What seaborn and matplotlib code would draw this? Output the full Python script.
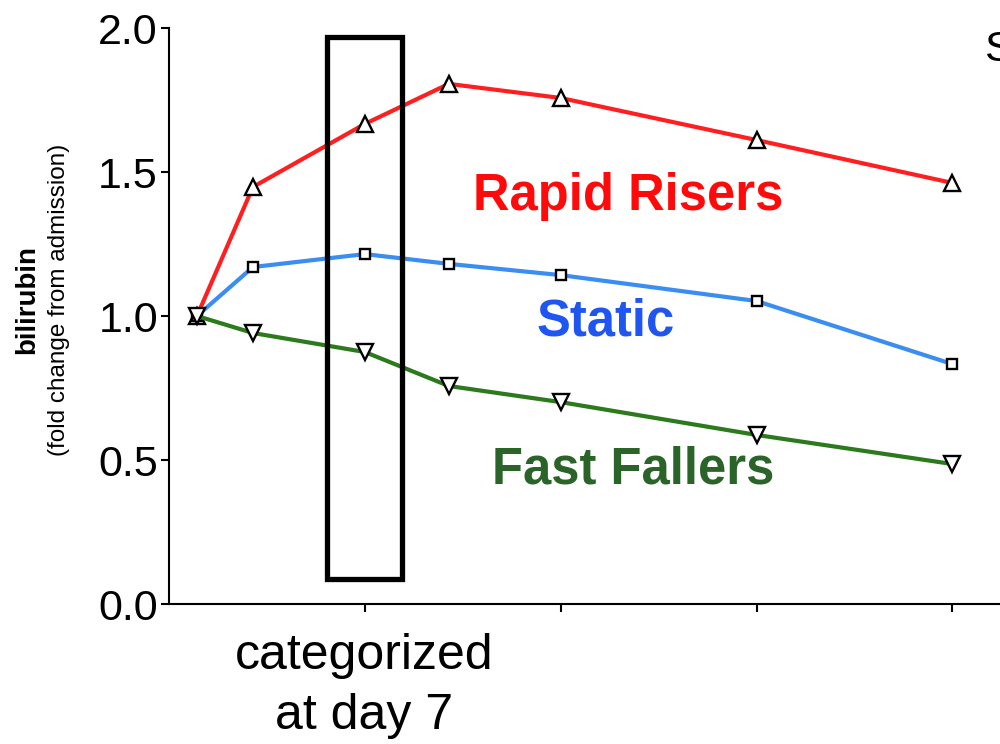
import matplotlib
matplotlib.use("Agg")
import matplotlib.pyplot as plt
import matplotlib.patches as patches
import seaborn as sns
import pandas as pd

days = [1, 3, 7, 10, 14, 21, 28]
rapid_risers = [1.0, 1.448, 1.667, 1.806, 1.757, 1.611, 1.462]
static = [1.0, 1.170, 1.215, 1.181, 1.142, 1.052, 0.833]
fast_fallers = [1.0, 0.941, 0.875, 0.757, 0.701, 0.587, 0.486]
y_ticks = [0.0, 0.5, 1.0, 1.5, 2.0]
x_ticks = [7, 14, 21, 28]

sns.set_style("ticks")
plt.rcParams['font.family'] = ['Liberation Sans', 'DejaVu Sans']
plt.rcParams['text.color'] = 'black'

fig = plt.figure(figsize=(10, 7.44), dpi=100)
ax = fig.add_axes([0.169, 140 / 744, 0.831, (604 - 28) / 744])

series = [
    (rapid_risers, "#ff1f1f", "^"),
    (static, "#3a8ef2", "s"),
    (fast_fallers, "#2b7a1b", "v"),
]
for vals, col, mk in series:
    df = pd.DataFrame({"day": days, "val": vals})
    sns.lineplot(data=df, x="day", y="val", ax=ax, color=col, linewidth=3,
                 marker=mk, markersize=11 if mk != "s" else 7.5,
                 markerfacecolor="white", markeredgecolor="black",
                 markeredgewidth=1.7)

ax.set_xlim(0, 29.7)
ax.set_ylim(0, 2.0)
ax.set_yticks(y_ticks)
ax.set_yticklabels([f"{v:.1f}" for v in y_ticks])
ax.set_xticks(x_ticks)
ax.set_xticklabels([])
ax.set_xlabel("")
ax.set_ylabel("")
ax.tick_params(axis="both", direction="out", length=6, width=1.5,
               labelsize=31, colors="black")
ax.tick_params(axis="y", pad=2)
for s in ["left", "bottom"]:
    ax.spines[s].set_linewidth(1.5)
    ax.spines[s].set_color("black")
sns.despine(ax=ax)

rect = patches.Rectangle((5.64, 0.087), 8.32 - 5.64, 1.97 - 0.087,
                         fill=False, edgecolor="black", linewidth=3.8,
                         zorder=5)
ax.add_patch(rect)

ax.text(16.4, 1.415, "Rapid Risers", color="#ff0a0a", fontsize=36.5,
        fontweight="bold", ha="center", va="center")
ax.text(15.6, 0.98, "Static", color="#1f55f0", fontsize=36.5,
        fontweight="bold", ha="center", va="center")
ax.text(16.6, 0.465, "Fast Fallers", color="#2a6428", fontsize=36.5,
        fontweight="bold", ha="center", va="center")

fig.text(0.364, 1 - 656 / 744, "categorized", fontsize=36, ha="center",
         va="center", color="black")
fig.text(0.364, 1 - 716 / 744, "at day 7", fontsize=36, ha="center",
         va="center", color="black")

fig.text(0.027, 1 - 300 / 744, "bilirubin", fontsize=20, fontweight="bold",
         rotation=90, ha="center", va="center", color="black")
fig.text(0.059, 1 - 300 / 744, "(fold change from admission)", fontsize=17.5,
         rotation=90, ha="center", va="center", color="black")

fig.text(0.984, 1 - 50 / 744, "S", fontsize=31, ha="left", va="center",
         color="black")

fig.savefig("out.png", dpi=100)
